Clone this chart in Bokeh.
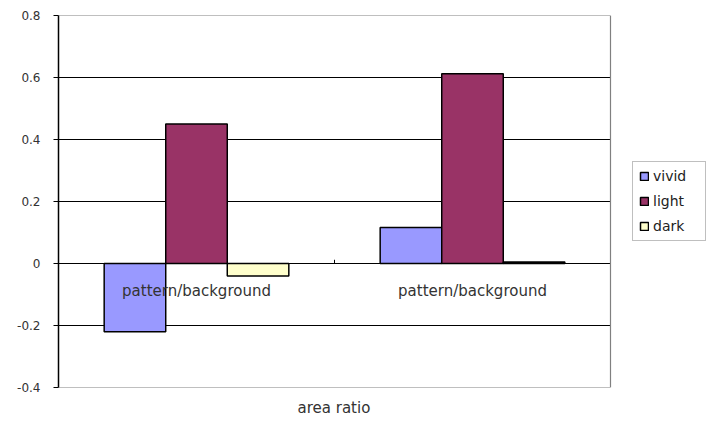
from bokeh.plotting import figure
from bokeh.models import ColumnDataSource, Range1d, FixedTicker, Legend, LegendItem, Title
from bokeh.core.properties import value
from bokeh.embed import file_html
from bokeh.resources import INLINE

categories = ["pattern/background", "pattern/background"]
series = ["vivid", "light", "dark"]
vivid = [-0.22, 0.116]
light = [0.45, 0.612]
dark = [-0.04, 0.005]
colors = ["#9999FF", "#993366", "#FFFFCC"]
ytick_values = [-0.4, -0.2, 0, 0.2, 0.4, 0.6, 0.8]
ytick_labels = ["-0.4", "-0.2", "0", "0.2", "0.4", "0.6", "0.8"]
x_title = "area ratio"

W, H = 706, 428
left, right, top, bottom = 58, 0, 15, 41
plot_px = 552                      # width of the category area
frame_px = W - left - right
n = len(categories)
x_end = n * frame_px / plot_px     # frame extends to the right to host the legend

p = figure(width=W, height=H, output_backend="svg", toolbar_location=None,
           x_range=Range1d(0, x_end), y_range=Range1d(ytick_values[0], ytick_values[-1]),
           min_border_left=left, min_border_right=right, min_border_top=top,
           min_border_bottom=bottom)
p.background_fill_color = "white"
p.border_fill_color = "white"
p.outline_line_color = None
p.xgrid.visible = False
p.ygrid.visible = False

# inner gridlines
inner = ytick_values[1:-1]
p.segment(x0=[0] * len(inner), x1=[n] * len(inner), y0=inner, y1=inner,
          line_color="black", line_width=1)
# plot-area border (top, bottom, right)
ends = [ytick_values[0], ytick_values[-1]]
p.segment(x0=[0, 0], x1=[n, n], y0=ends, y1=ends, line_color="#808080", line_width=1.2)
p.segment(x0=[n], x1=[n], y0=[ytick_values[0]], y1=[ytick_values[-1]],
          line_color="#808080", line_width=1.2)

bw = 0.223
offsets = [-bw, 0, bw]
renderers = []
for s, vals, col, off in zip(series, [vivid, light, dark], colors, offsets):
    src = ColumnDataSource(dict(x=[i + 0.5 + off for i in range(n)], top=vals))
    r = p.vbar(x="x", top="top", bottom=0, width=bw, source=src, fill_color=col,
               line_color="black", line_width=1.5)
    renderers.append((s, r))

# y axis
ya = p.yaxis[0]
ya.ticker = FixedTicker(ticks=ytick_values)
ya.major_label_overrides = {v: l for v, l in zip(ytick_values, ytick_labels)}
ya.axis_line_color = "black"
ya.axis_line_width = 1.5
ya.major_tick_in = 0
ya.major_tick_out = 5
ya.major_tick_line_color = "black"
ya.minor_tick_line_color = None
ya.major_label_text_font = "DejaVu Sans"
ya.major_label_text_font_size = "12px"
ya.major_label_text_color = "#333333"
ya.major_label_standoff = 13

p.xaxis.visible = False

# x title, centred under the category area
t = Title(text=x_title, align="left", offset=239, standoff=18,
          text_font="DejaVu Sans", text_font_style="normal", text_font_size="15px",
          text_color="#333333")
p.add_layout(t, "below")

# category labels along zero line
lab_src = ColumnDataSource(dict(x=[i + 0.5 for i in range(n)], y=[0] * n, t=categories))
p.text(x="x", y="y", text="t", source=lab_src, text_align="center", text_baseline="middle",
       y_offset=27, text_font=value("DejaVu Sans"), text_font_size="15px", text_color="#333333")

# category divider tick on zero line
p.segment(x0=[1], x1=[1], y0=[0], y1=[0.012], line_color="black", line_width=1)

legend = Legend(items=[LegendItem(label=s, renderers=[r]) for s, r in renderers],
                location=(574, 146))
legend.label_text_font = "DejaVu Sans"
legend.label_text_font_size = "14px"
legend.label_text_color = "#222222"
legend.glyph_width = 10
legend.glyph_height = 10
legend.label_standoff = 4
legend.spacing = 9
legend.padding = 6
legend.margin = 0
legend.label_width = 46
legend.border_line_color = "#808080"
legend.border_line_width = 1
legend.background_fill_color = "white"
legend.label_height = 16
p.add_layout(legend, "center")

open("out.html", "w").write(file_html(p, INLINE))
